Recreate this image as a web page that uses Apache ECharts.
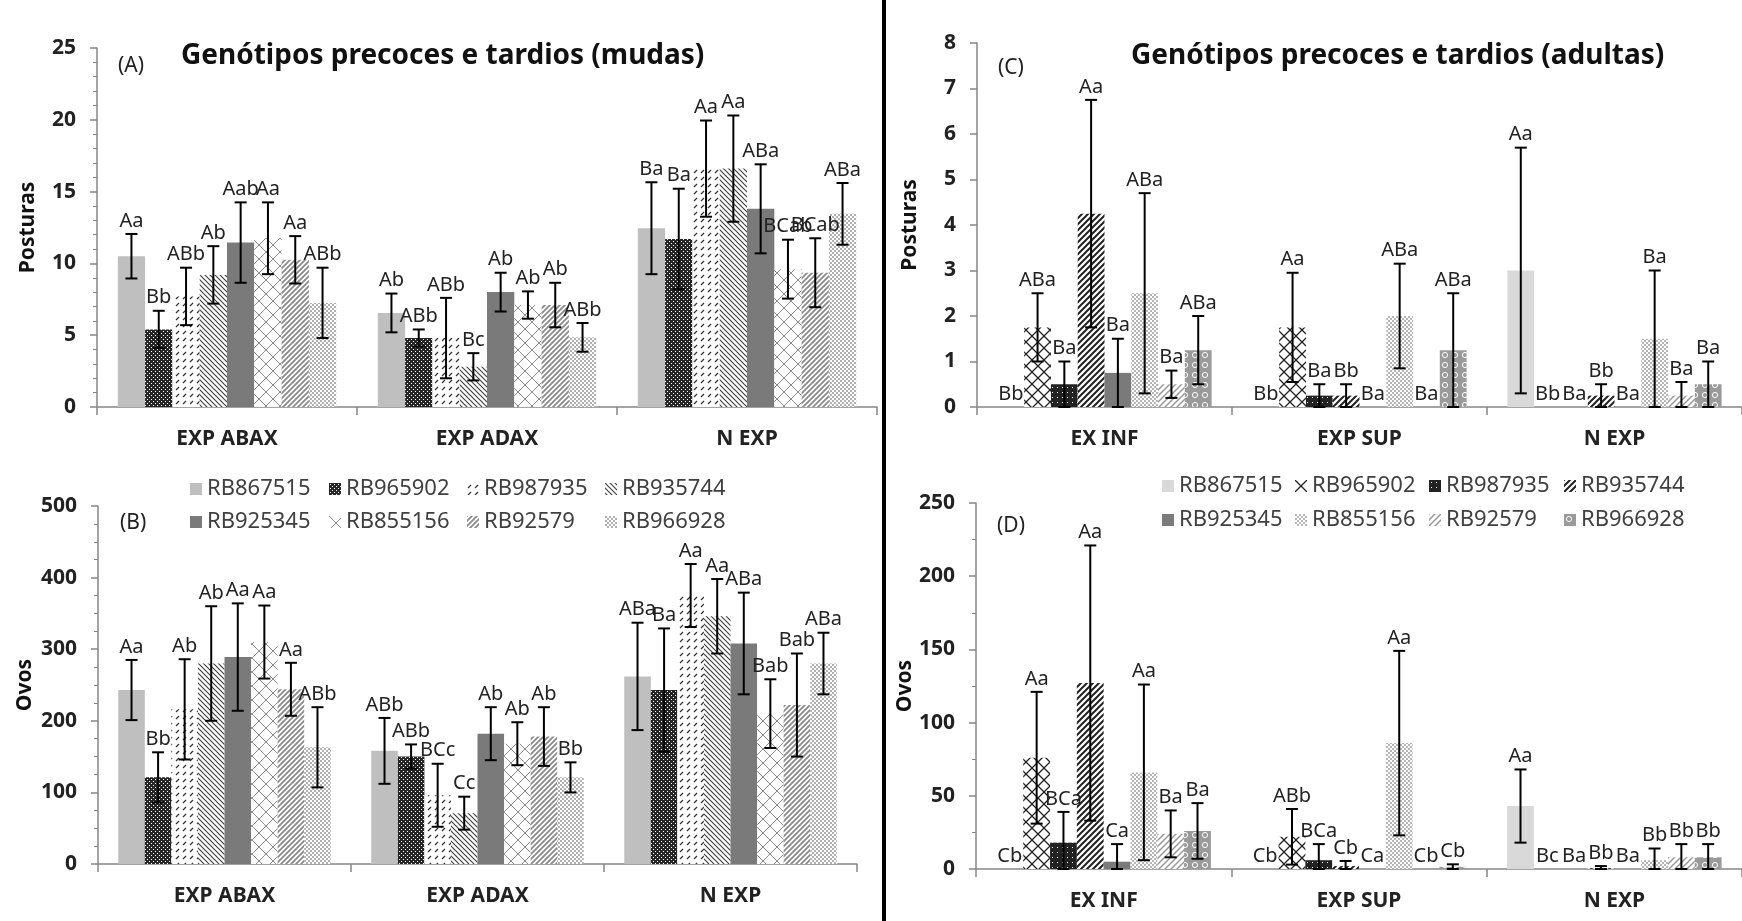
<!DOCTYPE html>
<html>
<head>
<meta charset="utf-8">
<script src="https://cdn.jsdelivr.net/npm/echarts@6/dist/echarts.min.js"></script>
<style>
  html, body { margin: 0; padding: 0; background: #fff; }
  #grafico { width: 1742px; height: 921px; }
</style>
</head>
<body>
<div id="grafico"></div>
<script>
const genotipos = ['RB867515', 'RB965902', 'RB987935', 'RB935744', 'RB925345', 'RB855156', 'RB92579', 'RB966928'];
const categoriasMudas = ['EXP ABAX', 'EXP ADAX', 'N EXP'];
const categoriasAdultas = ['EX INF', 'EXP SUP', 'N EXP'];

// linhas = genótipos, colunas = categorias
// (A) posturas em mudas
const posturasMudas = [
  [10.5, 6.55, 12.45], [5.4, 4.8, 11.7], [7.7, 4.8, 16.6], [9.2, 2.8, 16.6],
  [11.45, 8.0, 13.8], [11.75, 7.1, 9.6], [10.25, 7.1, 9.35], [7.25, 4.85, 13.45]
];
const erroPosturasMudas = [
  [1.55, 1.35, 3.2], [1.3, 0.6, 3.5], [2.0, 2.8, 3.35], [2.0, 0.95, 3.7],
  [2.8, 1.35, 3.1], [2.5, 0.95, 2.05], [1.65, 1.55, 2.4], [2.45, 1.0, 2.15]
];
const letrasPosturasMudas = [
  ['Aa', 'Ab', 'Ba'], ['Bb', 'ABb', 'Ba'], ['ABb', 'ABb', 'Aa'], ['Ab', 'Bc', 'Aa'],
  ['Aab', 'Ab', 'ABa'], ['Aa', 'Ab', 'BCab'], ['Aa', 'Ab', 'BCab'], ['ABb', 'ABb', 'ABa']
];

// (B) ovos em mudas
const ovosMudas = [
  [243, 158, 262], [121, 150, 243], [216, 96, 375], [280, 71, 346],
  [289, 182, 308], [310, 168, 210], [244, 178, 222], [163, 121, 280]
];
const erroOvosMudas = [
  [42, 46, 75], [35, 17, 86], [70, 44, 44], [80, 23, 52],
  [75, 37, 71], [51, 30, 48], [37, 41, 72], [56, 21, 43]
];
const letrasOvosMudas = [
  ['Aa', 'ABb', 'ABa'], ['Bb', 'ABb', 'Ba'], ['Ab', 'BCc', 'Aa'], ['Ab', 'Cc', 'Aa'],
  ['Aa', 'Ab', 'ABa'], ['Aa', 'Ab', 'Bab'], ['Aa', 'Ab', 'Bab'], ['ABb', 'Bb', 'ABa']
];

// (C) posturas em adultas
const posturasAdultas = [
  [0, 0, 3.0], [1.75, 1.75, 0], [0.5, 0.25, 0], [4.25, 0.25, 0.25],
  [0.75, 0, 0], [2.5, 2.0, 1.5], [0.5, 0, 0.25], [1.25, 1.25, 0.5]
];
const erroPosturasAdultas = [
  [0, 0, 2.7], [0.75, 1.2, 0], [0.5, 0.25, 0], [2.5, 0.25, 0.25],
  [0.75, 0, 0], [2.2, 1.15, 1.5], [0.3, 0, 0.3], [0.75, 1.25, 0.5]
];
const letrasPosturasAdultas = [
  ['Bb', 'Bb', 'Aa'], ['ABa', 'Aa', 'Bb'], ['Ba', 'Ba', 'Ba'], ['Aa', 'Bb', 'Bb'],
  ['Ba', 'Ba', 'Ba'], ['ABa', 'ABa', 'Ba'], ['Ba', 'Ba', 'Ba'], ['ABa', 'ABa', 'Ba']
];

// (D) ovos em adultas
const ovosAdultas = [
  [0, 0, 43], [76, 22, 0], [18, 6, 0], [127, 2, 0.5],
  [5, 0, 0], [66, 86, 6], [24, 0, 8], [26, 1.5, 8]
];
const erroOvosAdultas = [
  [0, 0, 25], [45, 19, 0], [21, 11, 0], [94, 3.5, 1.5],
  [12, 0, 0], [60, 63, 8], [16, 0, 9], [19, 1.7, 9]
];
const letrasOvosAdultas = [
  ['Cb', 'Cb', 'Aa'], ['Aa', 'ABb', 'Bc'], ['BCa', 'BCa', 'Ba'], ['Aa', 'Cb', 'Bb'],
  ['Ca', 'Ca', 'Ba'], ['Aa', 'Aa', 'Bb'], ['Ba', 'Cb', 'Bb'], ['Ba', 'Cb', 'Bb']
];

const FONTE = '"Noto Sans", sans-serif';
const GAP = 0.16;
const CINZA_EIXO = '#868686';

// texturas das barras
function padrao(s, desenho) {
  const c = document.createElement('canvas');
  c.width = s; c.height = s;
  const g = c.getContext('2d');
  g.fillStyle = '#fff';
  g.fillRect(0, 0, s, s);
  desenho(g, s);
  return { image: c, repeat: 'repeat' };
}
function linhas(g, segs, cor, larg) {
  g.strokeStyle = cor; g.lineWidth = larg;
  g.beginPath();
  segs.forEach(function (a) { g.moveTo(a[0], a[1]); g.lineTo(a[2], a[3]); });
  g.stroke();
}
function subindo(cor, larg, s) {
  return padrao(s, function (g) {
    linhas(g, [[0, s, s, 0], [-1, 1, 1, -1], [s - 1, s + 1, s + 1, s - 1]], cor, larg);
  });
}
function descendo(cor, larg, s) {
  return padrao(s, function (g) {
    linhas(g, [[0, 0, s, s], [-1, s - 1, 1, s + 1], [s - 1, -1, s + 1, 1]], cor, larg);
  });
}
function trelica(cor, larg, s) {
  return padrao(s, function (g) {
    linhas(g, [[0, 0, s, s], [s, 0, 0, s]], cor, larg);
  });
}
function xadrez(cor, s) {
  return padrao(s, function (g) {
    g.fillStyle = cor;
    g.fillRect(0, 0, s / 2, s / 2);
    g.fillRect(s / 2, s / 2, s / 2, s / 2);
  });
}
function pontilhadoEscuro(fundo, s) {
  return padrao(s, function (g) {
    g.fillStyle = fundo;
    g.fillRect(0, 0, s, s);
    g.fillStyle = '#fff';
    g.fillRect(1, 1, 1, 1);
    g.fillRect(3, 3, 1, 1);
  });
}

const padroesMudas = [
  '#bfbfbf',
  pontilhadoEscuro('#262626', 4),
  padrao(7, function (g) { linhas(g, [[1, 5, 4, 2]], '#333', 1.3); }),
  descendo('#444', 1.2, 5),
  '#7a7a7a',
  trelica('#8c8c8c', 1, 14),
  subindo('#8a8a8a', 1.8, 5),
  xadrez('#b0b0b0', 4)
];
const padroesAdultas = [
  '#d9d9d9',
  trelica('#222', 1.3, 12),
  padrao(5, function (g) {
    g.fillStyle = '#222'; g.fillRect(0, 0, 5, 5);
    g.fillStyle = '#fff'; g.fillRect(2, 2, 1, 1);
  }),
  subindo('#222', 2, 6),
  '#7a7a7a',
  xadrez('#b5b5b5', 4),
  subindo('#999', 1.5, 6),
  padrao(10, function (g) {
    g.fillStyle = '#9a9a9a'; g.fillRect(0, 0, 10, 10);
    g.strokeStyle = '#fff'; g.lineWidth = 1;
    g.beginPath(); g.arc(5, 5, 2.6, 0, Math.PI * 2); g.stroke();
  })
];

const paineis = [
  { grid: { left: 97, top: 48, width: 780, height: 359 }, cats: categoriasMudas, medias: posturasMudas, erros: erroPosturasMudas, letras: letrasPosturasMudas, max: 25, intervalo: 5, menores: 5, nome: 'Posturas', gapNome: 58, padroes: padroesMudas },
  { grid: { left: 98, top: 506, width: 759, height: 358 }, cats: categoriasMudas, medias: ovosMudas, erros: erroOvosMudas, letras: letrasOvosMudas, max: 500, intervalo: 100, menores: 4, nome: 'Ovos', gapNome: 62, padroes: padroesMudas },
  { grid: { left: 977, top: 43, width: 774, height: 364 }, cats: categoriasAdultas, medias: posturasAdultas, erros: erroPosturasAdultas, letras: letrasPosturasAdultas, max: 8, intervalo: 1, menores: 0, nome: 'Posturas', gapNome: 56, padroes: padroesAdultas },
  { grid: { left: 976, top: 503, width: 771, height: 366 }, cats: categoriasAdultas, medias: ovosAdultas, erros: erroOvosAdultas, letras: letrasOvosAdultas, max: 250, intervalo: 50, menores: 2, nome: 'Ovos', gapNome: 60, padroes: padroesAdultas }
];

function desenhaErro(p) {
  return function (params, api) {
    const j = api.value(0), i = api.value(1);
    const m = p.medias[i][j], e = p.erros[i][j];
    const banda = api.size([1, 0])[0];
    const usado = banda * (1 - GAP);
    const bw = usado / genotipos.length;
    const cx = api.coord([j, 0])[0] - usado / 2 + bw * (i + 0.5);
    const yTopo = api.coord([j, m + e])[1];
    const yBase = api.coord([j, Math.max(0, m - e)])[1];
    const estilo = { stroke: '#000', lineWidth: 2 };
    const filhos = [];
    if (e > 0) {
      filhos.push({ type: 'line', shape: { x1: cx, y1: yTopo, x2: cx, y2: yBase }, style: estilo });
      filhos.push({ type: 'line', shape: { x1: cx - 6, y1: yTopo, x2: cx + 6, y2: yTopo }, style: estilo });
      filhos.push({ type: 'line', shape: { x1: cx - 6, y1: yBase, x2: cx + 6, y2: yBase }, style: estilo });
    }
    filhos.push({
      type: 'text', x: cx, y: yTopo - 3,
      style: { text: p.letras[i][j], fontFamily: FONTE, fontSize: 20, fill: '#222', align: 'center', verticalAlign: 'bottom' }
    });
    return { type: 'group', children: filhos };
  };
}

const series = [];
paineis.forEach(function (p, k) {
  genotipos.forEach(function (g, i) {
    series.push({
      type: 'bar', name: g, xAxisIndex: k, yAxisIndex: k,
      data: p.medias[i], barGap: '0%', barCategoryGap: (GAP * 100) + '%',
      itemStyle: { color: p.padroes[i] }, emphasis: { disabled: true }
    });
  });
  const pontos = [];
  genotipos.forEach(function (g, i) {
    p.cats.forEach(function (c, j) { pontos.push([j, i, p.medias[i][j] + p.erros[i][j]]); });
  });
  series.push({
    type: 'custom', xAxisIndex: k, yAxisIndex: k, data: pontos,
    encode: { x: 0, y: 2 }, renderItem: desenhaErro(p), z: 5, silent: true
  });
});

// legenda em 4 colunas x 2 linhas: uma legenda vertical por coluna
function legendas(padroes, colunas, top, gapLinha) {
  return colunas.map(function (left, c) {
    const nomes = [genotipos[c], genotipos[c + 4]];
    return {
      data: nomes.map(function (n) { return { name: n, itemStyle: { color: padroes[genotipos.indexOf(n)] } }; }),
      left: left, top: top, orient: 'vertical', icon: 'rect',
      itemWidth: 12, itemHeight: 12, itemGap: gapLinha, padding: 0,
      textStyle: { fontFamily: FONTE, fontSize: 22, color: '#404040' }
    };
  });
}

const eixoLinha = { color: CINZA_EIXO, width: 1.5 };

const option = {
  animation: false,
  backgroundColor: '#fff',
  title: [
    { text: 'Genótipos precoces e tardios (mudas)', left: 181, top: 42, padding: 0, textStyle: { fontFamily: FONTE, fontSize: 28, fontWeight: 'bold', color: '#111' } },
    { text: 'Genótipos precoces e tardios (adultas)', left: 1131, top: 42, padding: 0, textStyle: { fontFamily: FONTE, fontSize: 28, fontWeight: 'bold', color: '#111' } },
    { text: '(A)', left: 118, top: 56, padding: 0, textStyle: { fontFamily: FONTE, fontSize: 21, fontWeight: 'normal', color: '#222' } },
    { text: '(B)', left: 120, top: 513, padding: 0, textStyle: { fontFamily: FONTE, fontSize: 21, fontWeight: 'normal', color: '#222' } },
    { text: '(C)', left: 998, top: 58, padding: 0, textStyle: { fontFamily: FONTE, fontSize: 21, fontWeight: 'normal', color: '#222' } },
    { text: '(D)', left: 997, top: 516, padding: 0, textStyle: { fontFamily: FONTE, fontSize: 21, fontWeight: 'normal', color: '#222' } }
  ],
  legend: legendas(padroesMudas, [190, 329, 467, 605], 478, 11)
    .concat(legendas(padroesAdultas, [1162, 1295, 1429, 1564], 475, 12)),
  grid: paineis.map(function (p) { return p.grid; }),
  xAxis: paineis.map(function (p, k) {
    return {
      type: 'category', gridIndex: k, data: p.cats,
      axisLine: { lineStyle: eixoLinha },
      axisTick: { show: true, interval: 0, length: 8, lineStyle: eixoLinha },
      axisLabel: { interval: 0, margin: 22, fontFamily: FONTE, fontSize: 21, fontWeight: 'bold', color: '#222' }
    };
  }),
  yAxis: paineis.map(function (p, k) {
    return {
      type: 'value', gridIndex: k, min: 0, max: p.max, interval: p.intervalo,
      name: p.nome, nameLocation: 'middle', nameGap: p.gapNome,
      nameTextStyle: { fontFamily: FONTE, fontSize: 21, fontWeight: 'bold', color: '#111' },
      axisLine: { show: true, lineStyle: eixoLinha },
      axisTick: { show: true, length: 7, lineStyle: eixoLinha },
      minorTick: { show: p.menores > 0, splitNumber: p.menores || 5, length: 4, lineStyle: { color: CINZA_EIXO, width: 1 } },
      splitLine: { show: false },
      axisLabel: { margin: 21, fontFamily: FONTE, fontSize: 21, fontWeight: 'bold', color: '#222' }
    };
  }),
  graphic: [
    { type: 'rect', left: 882, top: 0, shape: { width: 4, height: 921 }, style: { fill: '#000' }, silent: true }
  ],
  series: series
};

const grafico = echarts.init(document.getElementById('grafico'));
grafico.setOption(option);
</script>
</body>
</html>
